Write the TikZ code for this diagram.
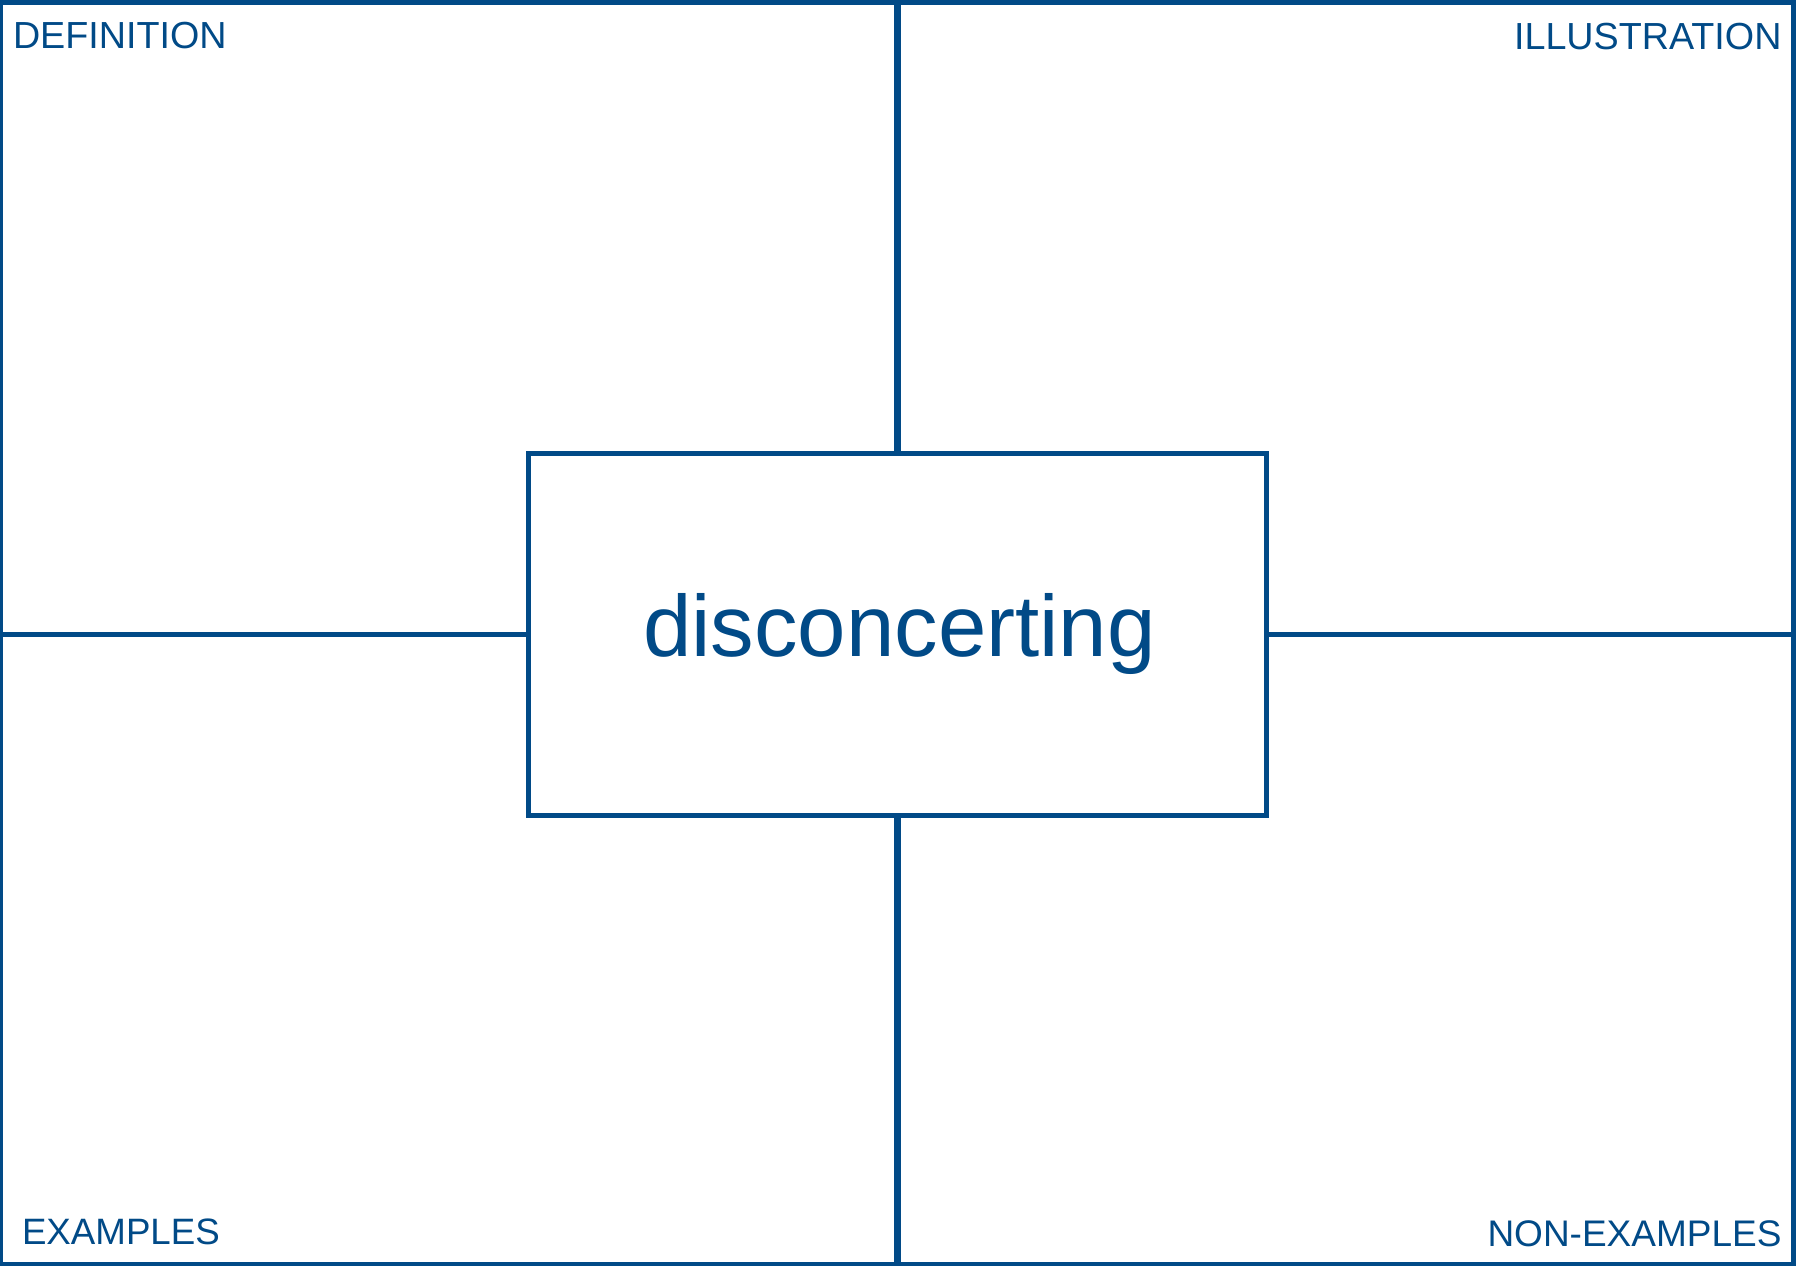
\documentclass[tikz,border=0pt]{standalone}
\usepackage{fontspec}
\setmainfont{Liberation Sans}
\definecolor{navy}{RGB}{1,74,135}
\begin{document}
\begin{tikzpicture}[x=1pt,y=-1pt,
  frm/.style={draw=navy,line width=5pt,rectangle,inner sep=0pt,outer sep=0pt},
  lbl/.style={text=navy,inner sep=0pt,outer sep=0pt,font=\fontsize{37.7}{42}\selectfont},
  divider/.style={draw=navy,line width=5pt},
  vdivider/.style={draw=navy,line width=7pt}]
\useasboundingbox (0,0) rectangle (1797,1266);
\fill[white] (0,0) rectangle (1797,1266);
\node[frm,minimum width=1792.5pt,minimum height=1261.5pt] (frame) at (896.75,633.25) {};
\node[frm,minimum width=738pt,minimum height=362pt] (box) at (897.5,634.5) {};
\draw[vdivider] (box.north) -- (box.north |- frame.north);
\draw[vdivider] (box.south) -- (box.south |- frame.south);
\draw[divider] (box.west) -- (box.west -| frame.west);
\draw[divider] (box.east) -- (box.east -| frame.east);
\node[text=navy,inner sep=0pt,anchor=base,font=\fontsize{87}{100}\selectfont] (word) at (899.5,656) {disconcerting};
\node[lbl,anchor=base west] (def) at (13,48.8) {DEFINITION};
\node[lbl,anchor=base east] (ill) at (1781.5,49.8) {ILLUSTRATION};
\node[lbl,anchor=base west,font=\fontsize{36.7}{42}\selectfont] (ex) at (22,1244.3) {EXAMPLES};
\node[lbl,anchor=base east,font=\fontsize{37}{42}\selectfont] (nex) at (1781.5,1246) {NON-EXAMPLES};
\end{tikzpicture}
\end{document}
